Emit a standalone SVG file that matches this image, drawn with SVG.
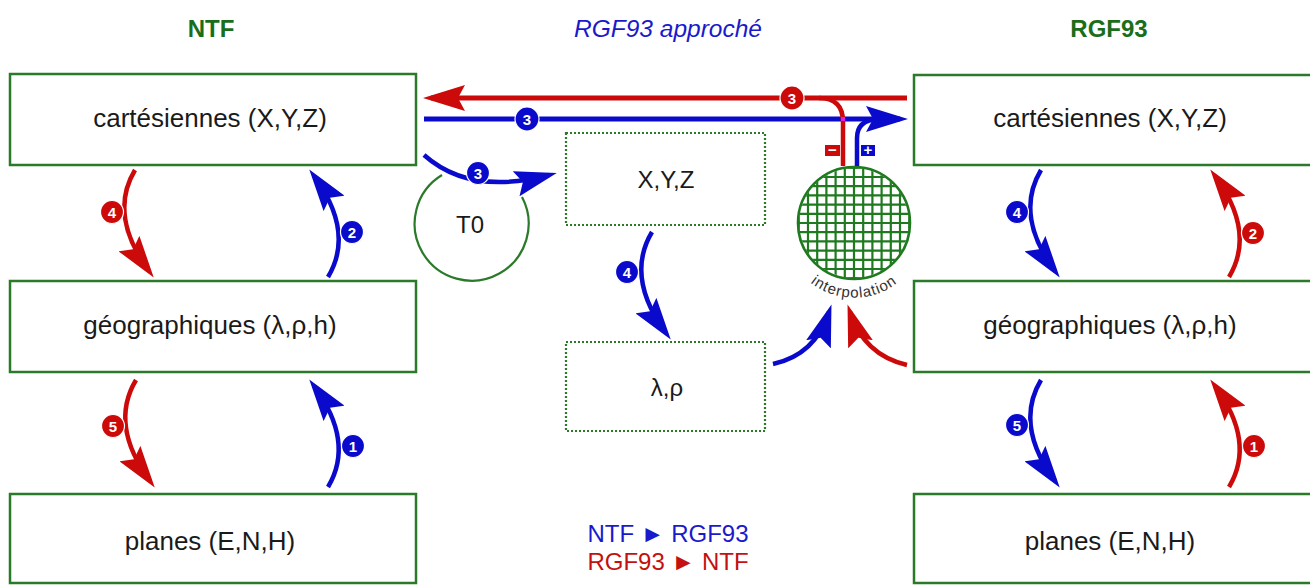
<svg xmlns="http://www.w3.org/2000/svg" width="1310" height="585" viewBox="0 0 1310 585">
<style>
.box{fill:#fff;stroke:#2a7a2a;stroke-width:2.5}
.dbox{fill:#fff;stroke:#2a7a2a;stroke-width:2.2;stroke-dasharray:2 2}
.lbl{font-family:"Liberation Sans",Arial,sans-serif;font-size:26px;fill:#1a1a1a;text-anchor:middle}
.mid{font-family:"Liberation Sans",Arial,sans-serif;font-size:24px;fill:#1a1a1a;text-anchor:middle}
.hdr{font-family:"Liberation Sans",Arial,sans-serif;font-size:24px;font-weight:bold;fill:#1a6e1a;text-anchor:middle}
.r{fill:none;stroke:#cc0a0a;stroke-width:4.5}
.b{fill:none;stroke:#0a0acc;stroke-width:4.5}
.rl{fill:none;stroke:#cc0a0a;stroke-width:5}
.bl{fill:none;stroke:#0a0acc;stroke-width:5}
.bdr{fill:#cc0a0a;stroke:#fff;stroke-width:1.2}
.bdb{fill:#0a0acc;stroke:#fff;stroke-width:1.2}
.bt{font-family:"Liberation Sans",Arial,sans-serif;font-size:15px;font-weight:bold;fill:#fff;text-anchor:middle}
.ra{marker-end:url(#ahr)}
.ba{marker-end:url(#ahb)}
</style>
<defs>
<marker id="ahr" markerUnits="userSpaceOnUse" markerWidth="42" markerHeight="26" viewBox="0 0 42 26" refX="34" refY="13" orient="auto"><path d="M0,0 L42,13 L0,26 L7,13 z" fill="#cc0a0a"/></marker>
<marker id="ahb" markerUnits="userSpaceOnUse" markerWidth="42" markerHeight="26" viewBox="0 0 42 26" refX="34" refY="13" orient="auto"><path d="M0,0 L42,13 L0,26 L7,13 z" fill="#0a0acc"/></marker>
<clipPath id="cc"><circle cx="854" cy="223" r="55"/></clipPath>
<path id="arcT" d="M796.7,268.6 A71,71 0 0 0 911.3,268.6"/>
</defs>

<g id="headers">
<text class="hdr" x="211" y="37">NTF</text>
<text x="668" y="37" font-family="Liberation Sans, Arial, sans-serif" font-size="24.5" font-style="italic" fill="#1a1acc" text-anchor="middle">RGF93 approché</text>
<text class="hdr" x="1109" y="37">RGF93</text>
</g>

<g id="ntf-cart"><rect class="box" x="10" y="74" width="406" height="91"/><text class="lbl" x="210" y="127">cartésiennes (X,Y,Z)</text></g>
<g id="ntf-geo"><rect class="box" x="10" y="281" width="406" height="91"/><text class="lbl" x="210" y="334">géographiques (λ,ρ,h)</text></g>
<g id="ntf-plan"><rect class="box" x="10" y="494" width="406" height="89"/><text class="lbl" x="210" y="550">planes (E,N,H)</text></g>

<g id="rgf-cart"><rect class="box" x="914" y="75" width="400" height="90"/><text class="lbl" x="1110" y="127">cartésiennes (X,Y,Z)</text></g>
<g id="rgf-geo"><rect class="box" x="914" y="281" width="400" height="91"/><text class="lbl" x="1110" y="334">géographiques (λ,ρ,h)</text></g>
<g id="rgf-plan"><rect class="box" x="914" y="494" width="400" height="89"/><text class="lbl" x="1110" y="550">planes (E,N,H)</text></g>

<g id="app-xyz"><rect class="dbox" x="566" y="133" width="199" height="92"/><text class="mid" x="666" y="188">X,Y,Z</text></g>
<g id="app-lp"><rect class="dbox" x="566" y="342" width="199" height="89"/><text class="mid" x="667" y="396">λ,ρ</text></g>

<g id="t0">
<path d="M442,175 A57,57 0 1 0 522,197" fill="none" stroke="#2a7a2a" stroke-width="2.2"/>
<text class="mid" x="470" y="233">T0</text>
</g>

<g id="interpolation">
<circle cx="854" cy="223" r="55" fill="#fff"/>
<path clip-path="url(#cc)" fill="none" stroke="#1f7a1f" stroke-width="2.2" d="M798.8,160V290M808,160V290M817.2,160V290M826.4,160V290M835.6,160V290M844.8,160V290M854,160V290M863.2,160V290M872.4,160V290M881.6,160V290M890.8,160V290M900,160V290M909.2,160V290M790,167.8H920M790,177H920M790,186.2H920M790,195.4H920M790,204.6H920M790,213.8H920M790,223H920M790,232.2H920M790,241.4H920M790,250.6H920M790,259.8H920M790,269H920M790,278.2H920"/>
<circle cx="854" cy="223" r="56" fill="none" stroke="#1f7a1f" stroke-width="2.6"/>
<text font-family="Liberation Sans, Arial, sans-serif" font-size="15" letter-spacing="0.9" fill="#333"><textPath href="#arcT" startOffset="50%" text-anchor="middle">interpolation</textPath></text>
</g>

<g id="connectors">
<path class="bl ba" d="M424,119 L900,119"/>
<path class="rl ra" d="M907,98 L431,98"/>
<path class="b" d="M857,166 L857,138 Q857,120 878,119"/>
<path class="r" d="M843,166 L843,122 Q843,98 819,98"/>
<rect x="841" y="117" width="4" height="4" fill="#e020e0"/>
<path class="b ba" d="M424,155 Q470,196 549,175"/>

<path class="r ra" d="M135,170 Q108,215 149,271"/>
<path class="b ba" d="M328,277 Q355,232 314,176"/>
<path class="r ra" d="M136,380 Q109,425 150,481"/>
<path class="b ba" d="M328,487 Q355,442 314,386"/>

<path class="b ba" d="M1041,170 Q1014,215 1055,271"/>
<path class="r ra" d="M1229,277 Q1256,232 1215,176"/>
<path class="b ba" d="M1041,380 Q1014,425 1055,481"/>
<path class="r ra" d="M1229,487 Q1256,442 1215,386"/>

<path class="b ba" d="M652,232 Q625,277 666,333"/>
<path class="b ba" d="M773,364 Q815,355 829,312"/>
<path class="r ra" d="M907,365 Q864,355 850,312"/>

<rect x="825" y="145" width="15" height="11" fill="#cc0a0a"/>
<text class="bt" x="832.5" y="155" font-size="13">−</text>
<rect x="861" y="145" width="14" height="11" fill="#0a0acc"/>
<text class="bt" x="868" y="155" font-size="13">+</text>

<circle class="bdb" cx="527" cy="119" r="12"/><text class="bt" x="527" y="124.5">3</text>
<circle class="bdr" cx="792" cy="98" r="12"/><text class="bt" x="792" y="103.5">3</text>
<circle class="bdb" cx="478" cy="173" r="11.5"/><text class="bt" x="478" y="178.5">3</text>
<circle class="bdr" cx="112" cy="212" r="11.5"/><text class="bt" x="112" y="217.5">4</text>
<circle class="bdb" cx="352" cy="232" r="11.5"/><text class="bt" x="352" y="237.5">2</text>
<circle class="bdr" cx="113" cy="426" r="11.5"/><text class="bt" x="113" y="431.5">5</text>
<circle class="bdb" cx="353" cy="446" r="11.5"/><text class="bt" x="353" y="451.5">1</text>
<circle class="bdb" cx="1017" cy="212" r="11.5"/><text class="bt" x="1017" y="217.5">4</text>
<circle class="bdr" cx="1253" cy="233" r="11.5"/><text class="bt" x="1253" y="238.5">2</text>
<circle class="bdb" cx="1017" cy="425" r="11.5"/><text class="bt" x="1017" y="430.5">5</text>
<circle class="bdr" cx="1254" cy="446" r="11.5"/><text class="bt" x="1254" y="451.5">1</text>
<circle class="bdb" cx="627" cy="272" r="11.5"/><text class="bt" x="627" y="277.5">4</text>
</g>

<g id="legend" font-family="Liberation Sans, Arial, sans-serif" font-size="24" text-anchor="middle">
<text x="668" y="542" fill="#1a1acc">NTF ► RGF93</text>
<text x="668" y="570" fill="#c41010">RGF93 ► NTF</text>
</g>
</svg>
